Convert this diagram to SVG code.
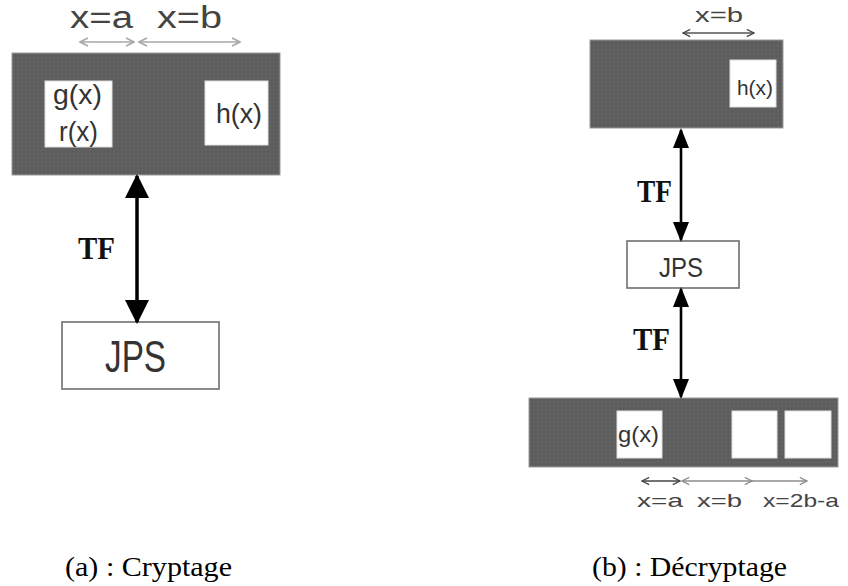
<svg xmlns="http://www.w3.org/2000/svg" width="848" height="586" viewBox="0 0 848 586">
  <style>
    .sig { fill: url(#dots); stroke: #9a9a9a; stroke-width: 1; }
    .win { fill: #ffffff; stroke: #e0e0e0; stroke-width: 1; }
    .jps { fill: #ffffff; stroke: #6f6f6f; stroke-width: 1.6; }
    .lbl { font-family: "Liberation Sans", "DejaVu Sans", sans-serif; fill: #333333; }
    .dim { font-family: "Liberation Sans", "DejaVu Sans", sans-serif; fill: #444444; }
    .tf { font-family: "Liberation Serif", "Times New Roman", serif; font-weight: bold; fill: #111111; }
    .cap { font-family: "Liberation Serif", "Times New Roman", serif; fill: #000000; }
    .big { stroke: #000000; fill: none; }
    .thin { fill: none; stroke-width: 1.6; }
  </style>
  <defs>
    <pattern id="dots" width="4" height="4" patternUnits="userSpaceOnUse">
      <rect width="4" height="4" fill="#5d5d5d"/>
      <circle cx="2" cy="2" r="0.7" fill="#6d6d6d"/>
    </pattern>
    <marker id="headL" viewBox="0 0 24 24" refX="22" refY="12" markerWidth="24" markerHeight="24" markerUnits="userSpaceOnUse" orient="auto-start-reverse">
      <path d="M0,0 L24,12 L0,24 z" fill="#000000"/>
    </marker>
    <marker id="headR" viewBox="0 0 20 16" refX="18" refY="8" markerWidth="20" markerHeight="16" markerUnits="userSpaceOnUse" orient="auto-start-reverse">
      <path d="M0,0 L20,8 L0,16 z" fill="#000000"/>
    </marker>
    <marker id="chevLight" viewBox="0 0 10 10" refX="9" refY="5" markerWidth="10" markerHeight="10" markerUnits="userSpaceOnUse" orient="auto-start-reverse">
      <path d="M1,1 L9,5 L1,9" fill="none" stroke="#a8a8a8" stroke-width="1.6"/>
    </marker>
    <marker id="chevGray" viewBox="0 0 10 10" refX="9" refY="5" markerWidth="9" markerHeight="9" markerUnits="userSpaceOnUse" orient="auto-start-reverse">
      <path d="M1,1 L9,5 L1,9" fill="none" stroke="#8c8c8c" stroke-width="1.4"/>
    </marker>
    <marker id="chevDark" viewBox="0 0 10 10" refX="9" refY="5" markerWidth="9" markerHeight="9" markerUnits="userSpaceOnUse" orient="auto-start-reverse">
      <path d="M1,1 L9,5 L1,9" fill="none" stroke="#444444" stroke-width="1.4"/>
    </marker>
  </defs>

  <!-- (a) Cryptage -->
  <g id="a-signal">
    <rect class="sig" x="12" y="53" width="268" height="122"/>
    <rect class="win" x="45" y="81" width="67" height="66"/>
    <rect class="win" x="205" y="81" width="63" height="64"/>
    <text class="lbl" x="53" y="104" font-size="28" textLength="49" lengthAdjust="spacingAndGlyphs">g(x)</text>
    <text class="lbl" x="59" y="141" font-size="28" textLength="39" lengthAdjust="spacingAndGlyphs">r(x)</text>
    <text class="lbl" x="216" y="123" font-size="28" textLength="46" lengthAdjust="spacingAndGlyphs">h(x)</text>
  </g>
  <g id="a-dims">
    <text class="dim" x="70" y="28" font-size="31" textLength="63" lengthAdjust="spacingAndGlyphs">x=a</text>
    <text class="dim" x="157" y="28" font-size="31" textLength="65" lengthAdjust="spacingAndGlyphs">x=b</text>
  </g>
  <g id="a-jps">
    <rect class="jps" x="62" y="322" width="157" height="67"/>
    <text class="lbl" x="105" y="372" font-size="44" textLength="61" lengthAdjust="spacingAndGlyphs">JPS</text>
  </g>
  <g id="a-tf">
    <text class="tf" x="78" y="259" font-size="32" textLength="37" lengthAdjust="spacingAndGlyphs">TF</text>
  </g>

  <!-- (b) Décryptage -->
  <g id="b-top-signal">
    <rect class="sig" x="590" y="40" width="193" height="88"/>
    <rect class="win" x="730" y="60" width="46" height="47"/>
    <text class="lbl" x="737" y="95" font-size="21" textLength="36" lengthAdjust="spacingAndGlyphs">h(x)</text>
  </g>
  <g id="b-top-dims">
    <text class="dim" x="695" y="22" font-size="21" textLength="48" lengthAdjust="spacingAndGlyphs">x=b</text>
  </g>
  <g id="b-jps">
    <rect class="jps" x="627" y="241" width="112" height="47"/>
    <text class="lbl" x="659" y="277" font-size="28" textLength="44" lengthAdjust="spacingAndGlyphs">JPS</text>
  </g>
  <g id="b-tf">
    <text class="tf" x="637" y="202" font-size="32" textLength="35" lengthAdjust="spacingAndGlyphs">TF</text>
    <text class="tf" x="633" y="350" font-size="32" textLength="37" lengthAdjust="spacingAndGlyphs">TF</text>
  </g>
  <g id="b-bottom-signal">
    <rect class="sig" x="529" y="398" width="309" height="69"/>
    <rect class="win" x="617" y="411" width="45" height="47"/>
    <rect class="win" x="732" y="411" width="45" height="47"/>
    <rect class="win" x="785" y="411" width="46" height="47"/>
    <text class="lbl" x="618" y="442" font-size="22" textLength="41" lengthAdjust="spacingAndGlyphs">g(x)</text>
  </g>
  <g id="b-bottom-dims">
    <text class="dim" x="637" y="507" font-size="19" textLength="46" lengthAdjust="spacingAndGlyphs">x=a</text>
    <text class="dim" x="697" y="507" font-size="19" textLength="45" lengthAdjust="spacingAndGlyphs">x=b</text>
    <text class="dim" x="763" y="507" font-size="19" textLength="76" lengthAdjust="spacingAndGlyphs">x=2b-a</text>
  </g>

  <g id="captions">
    <text class="cap" x="65" y="576" font-size="27" textLength="167" lengthAdjust="spacingAndGlyphs">(a) : Cryptage</text>
    <text class="cap" x="592" y="576" font-size="27" textLength="195" lengthAdjust="spacingAndGlyphs">(b) : Décryptage</text>
  </g>

  <g id="connectors">
    <line class="big" x1="137" y1="176" x2="137" y2="322" stroke-width="3.5" marker-start="url(#headL)" marker-end="url(#headL)"/>
    <line class="big" x1="681" y1="130" x2="681" y2="240" stroke-width="2.6" marker-start="url(#headR)" marker-end="url(#headR)"/>
    <line class="big" x1="681" y1="289" x2="681" y2="397" stroke-width="2.6" marker-start="url(#headR)" marker-end="url(#headR)"/>
    <line class="thin" stroke="#a8a8a8" x1="80" y1="42" x2="134" y2="42" marker-start="url(#chevLight)" marker-end="url(#chevLight)"/>
    <line class="thin" stroke="#a8a8a8" x1="139" y1="42" x2="240" y2="42" marker-start="url(#chevLight)" marker-end="url(#chevLight)"/>
    <line class="thin" stroke="#555555" x1="683" y1="33" x2="754" y2="33" marker-start="url(#chevDark)" marker-end="url(#chevDark)"/>
    <line class="thin" stroke="#444444" x1="642" y1="481" x2="680" y2="481" marker-start="url(#chevDark)" marker-end="url(#chevDark)"/>
    <line class="thin" stroke="#8c8c8c" x1="682" y1="481" x2="752" y2="481" marker-start="url(#chevGray)" marker-end="url(#chevGray)"/>
    <line class="thin" stroke="#8c8c8c" x1="752" y1="481" x2="807" y2="481" marker-end="url(#chevGray)"/>
  </g>
</svg>
